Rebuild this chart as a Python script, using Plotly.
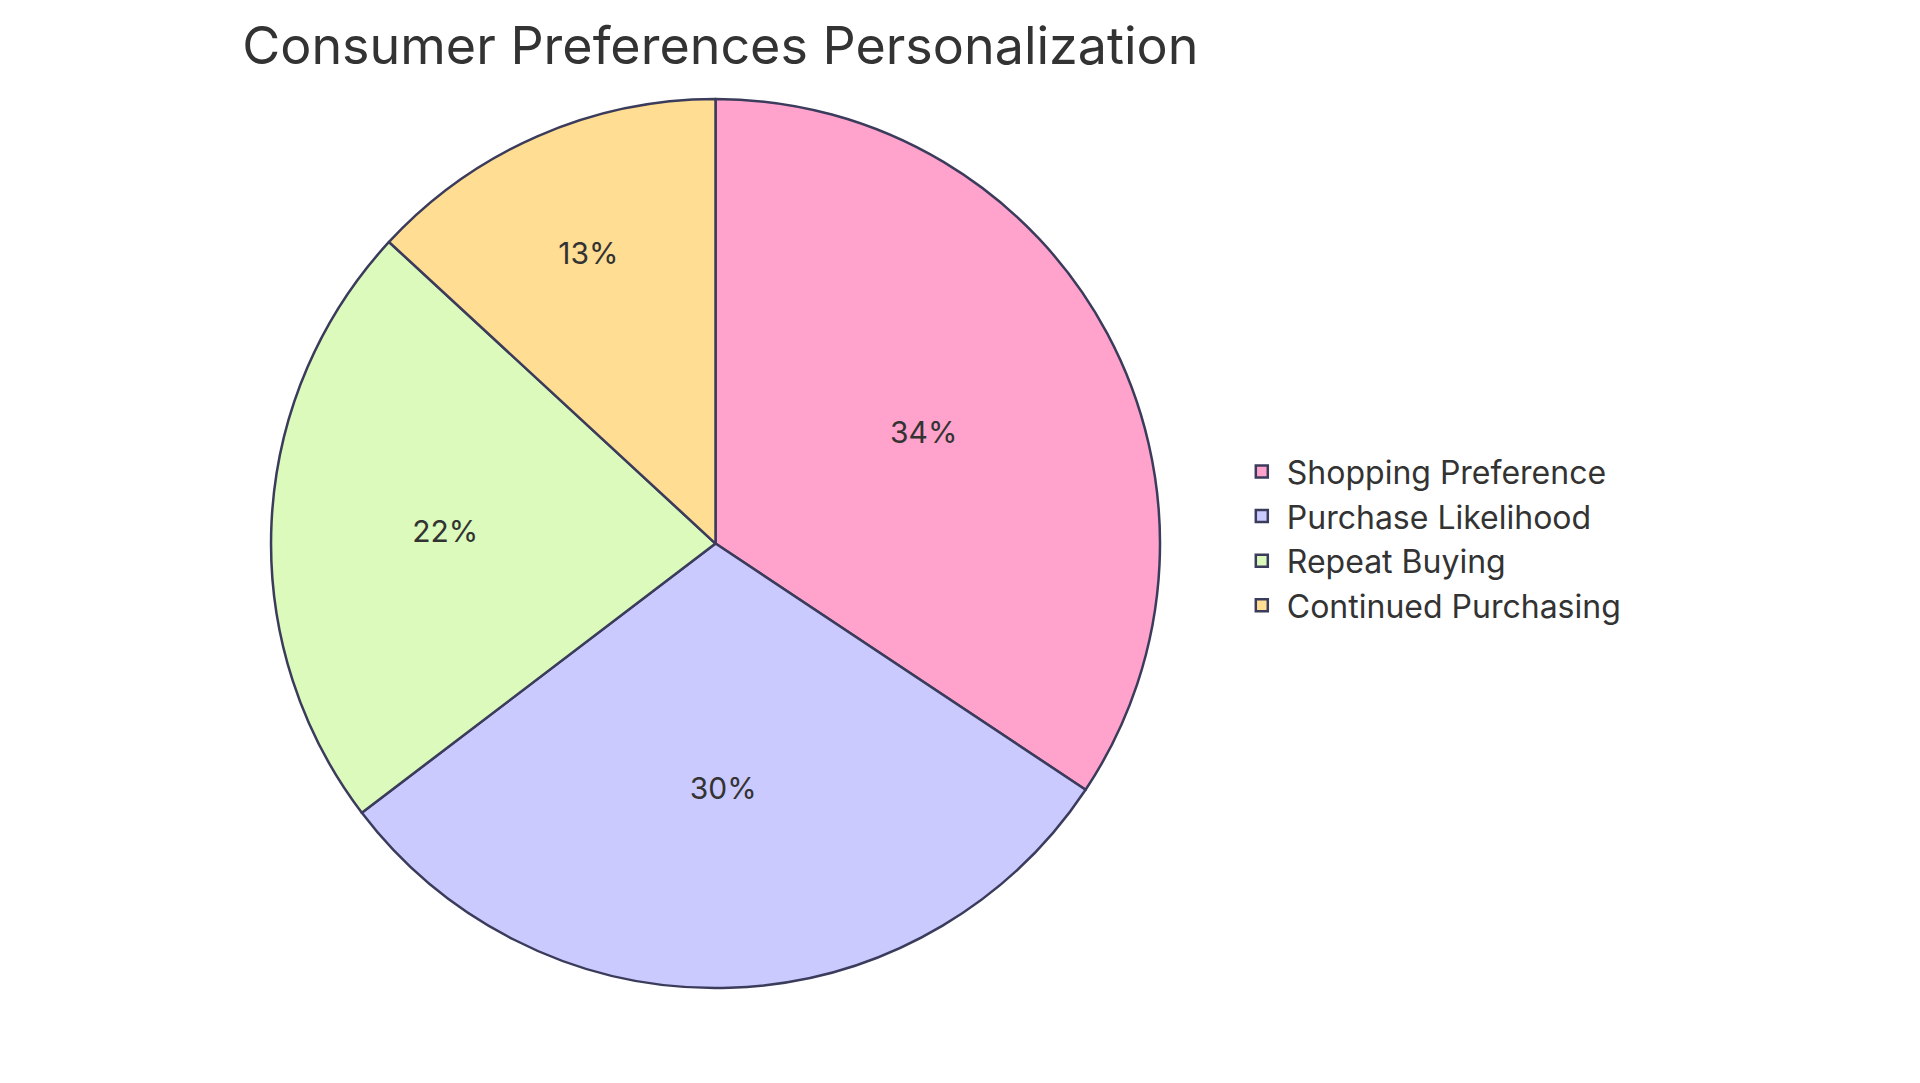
import plotly.graph_objects as go

labels = ["Shopping Preference", "Purchase Likelihood", "Repeat Buying", "Continued Purchasing"]
values = [34, 30, 22, 13]
colors = ["#FFA3CC", "#CACAFF", "#DBFABB", "#FFDE94"]

fig = go.Figure(
    go.Pie(
        labels=labels,
        values=values,
        sort=False,
        direction="clockwise",
        rotation=0,
        textinfo="percent",
        texttemplate="%{percent:.0%}",
        textposition="inside",
        insidetextorientation="horizontal",
        textfont=dict(size=30, color="#333333"),
        marker=dict(colors=colors, line=dict(color="#3B3B5C", width=2.5)),
        domain=dict(x=[0.137, 0.6], y=[0.093, 0.918]),
        hoverinfo="label+percent",
    )
)

fig.update_layout(
    width=1920,
    height=1083,
    font=dict(family="Inter, Noto Sans, sans-serif", color="#333333"),
    title=dict(
        text="Consumer Preferences Personalization",
        x=0.122, xanchor="left", y=0.965, yanchor="middle",
        font=dict(size=52, color="#333333"),
    ),
    legend=dict(
        x=0.64, xanchor="left", y=0.51, yanchor="middle",
        font=dict(size=32, color="#333333"),
        itemwidth=40,
    ),
    margin=dict(l=0, r=0, t=0, b=0),
    paper_bgcolor="white",
)

fig.write_html("out.html")
